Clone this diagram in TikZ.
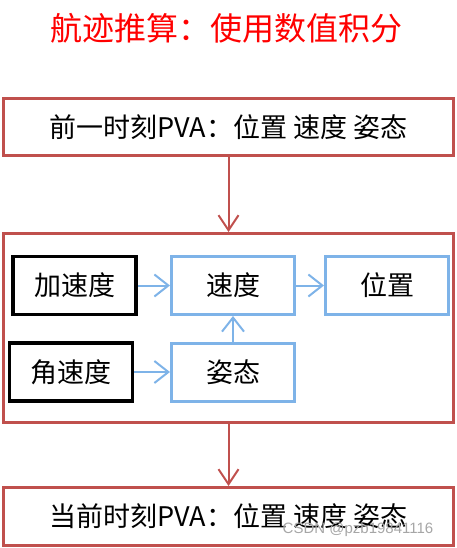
\documentclass[tikz,border=0pt]{standalone}
\usepackage{fontspec}
\usepackage{tikz}
\usetikzlibrary{arrows.meta,positioning}
\newfontfamily\cjk{Noto Sans CJK SC}
\newfontfamily\wmfont{Liberation Sans}
\definecolor{frameRed}{HTML}{C0504D}
\definecolor{stepBlue}{HTML}{7EB3E8}
\definecolor{titleRed}{HTML}{FF0000}

\begin{document}
\begin{tikzpicture}[
  x=1pt, y=-1pt,
  box/.style={draw, minimum width=123pt, minimum height=58pt,
              inner sep=0pt, font=\cjk\fontsize{27}{30}\selectfont},
  inbox/.style={box, draw=black, line width=3.5pt},
  bluebox/.style={box, draw=stepBlue, line width=3pt},
  frame/.style={draw=frameRed, line width=3pt, minimum width=450pt,
                inner sep=0pt, font=\cjk\fontsize{27}{30}\selectfont},
  redarr/.style={-{Straight Barb[length=15pt, width=20pt, line width=2pt]},
                 draw=frameRed, line width=2pt},
  bluearr/.style={-{Straight Barb[length=14pt, width=22pt, line width=2pt]},
                  draw=stepBlue, line width=2pt},
]
  \useasboundingbox (0,0) rectangle (457,548);

  \node[font=\cjk\fontsize{32}{36}\selectfont, text=titleRed] (title)
    at (226,28) {航迹推算：使用数值积分};

  % outer frames
  \node[frame, minimum height=57pt] (prev) at (228.5,127) {前一时刻PVA：位置 速度 姿态};
  \node[frame, minimum height=189pt] (core) at (228.5,328) {};
  \node[frame, minimum height=58pt] (curr) at (228.5,516.5) {当前时刻PVA：位置 速度 姿态};

  % integration steps
  \node[inbox] (acc) at (74.5,285.5) {加速度};
  \node[bluebox] (vel) at (233,285.5) {速度};
  \node[bluebox] (pos) at (387,285.5) {位置};
  \node[inbox] (gyro) at (71,372) {角速度};
  \node[bluebox] (att) at (233,372) {姿态};

  \draw[redarr] (prev) -- (core);
  \draw[redarr] (core) -- (curr);
  \draw[bluearr] (acc) -- (vel);
  \draw[bluearr] (vel) -- (pos);
  \draw[bluearr] (gyro) -- (att);
  \draw[bluearr] (att) -- (vel);

  \node[font=\wmfont\fontsize{15}{18}\selectfont, text=black!35] (mark)
    at (358,530) {CSDN @pzb19841116};
\end{tikzpicture}
\end{document}
